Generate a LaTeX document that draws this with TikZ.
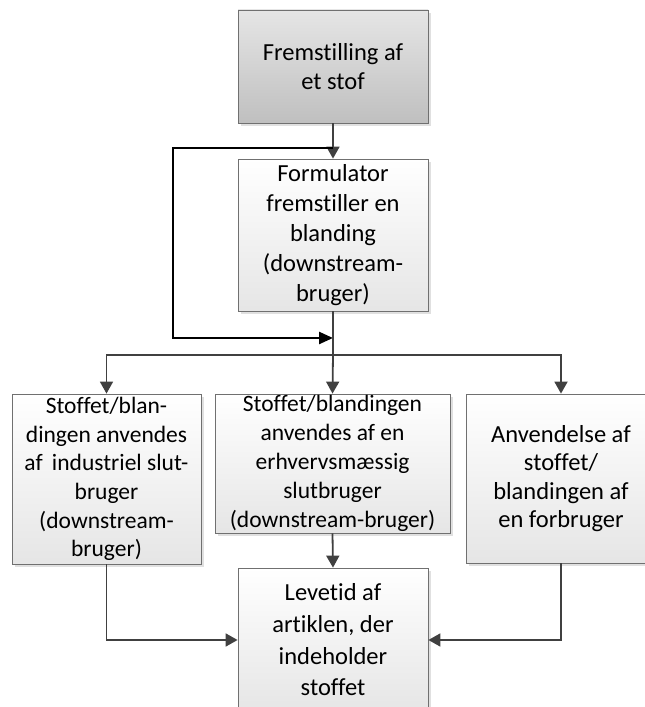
\documentclass[tikz,border=0pt]{standalone}
\usepackage{fontspec}
\setmainfont{Carlito}[Ligatures=NoCommon]
\usetikzlibrary{arrows.meta,shadows}

\definecolor{linegray}{HTML}{404040}
\definecolor{framegray}{HTML}{707070}

\tikzset{
  box/.style={draw=framegray, line width=0.8pt, align=center, inner sep=0pt,
    minimum width=190pt, top color=white, bottom color=black!10,
    drop shadow={shadow xshift=3pt, shadow yshift=-3pt, fill=black!12, opacity=1}},
  darkbox/.style={box, top color=black!10, bottom color=black!25},
  flow/.style={draw=linegray, line width=1.8pt, -{Triangle[width=13pt,length=12pt]}},
  loop/.style={draw=black, line width=2.4pt, -{Triangle[width=12pt,length=14pt]}}
}

\begin{document}
\begin{tikzpicture}[x=1pt,y=1pt]
  \useasboundingbox (0,0) rectangle (645,707);

  % the boxes
  \node[darkbox, minimum height=113pt, font=\fontsize{24.5}{29.5}\selectfont] (stof) at (333,640.5)
    {Fremstilling af\\et stof};
  \node[box, minimum height=152pt, font=\fontsize{24.5}{30}\selectfont] (formulator) at (333,472)
    {Formulator\\fremstiller en\\blanding\\(downstream-\\bruger)};
  \node[box, minimum width=189pt, minimum height=170pt, font=\fontsize{23.5}{28.7}\selectfont] (industri) at (106.5,228)
    {Stoffet/blan-\\dingen anvendes\\af\, industriel slut-\\bruger\\(downstream-\\bruger)};
  \node[box, minimum width=235pt, minimum height=139pt, font=\fontsize{23.5}{29}\selectfont] (erhverv) at (332.5,243.5)
    {Stoffet/blandingen\\anvendes af en\\erhvervsmæssig\\slutbruger\\(downstream-bruger)};
  \node[box, minimum height=169pt, font=\fontsize{24.5}{28.5}\selectfont] (forbruger) at (561,228.5)
    {Anvendelse af\\stoffet/\\blandingen af\\en forbruger};
  \node[box, minimum height=144pt, font=\fontsize{24.5}{31.7}\selectfont] (artikel) at (333,67)
    {Levetid af\\artiklen, der\\indeholder\\stoffet};

  % junction points
  \coordinate (loopin) at (333,559);
  \coordinate (loopout) at (333,369);
  \coordinate (split) at (333,352);

  % connectors
  \draw[flow] (stof.south) -- (formulator.north);
  \draw[loop] (loopin) -- ++(-160,0) |- (loopout);
  \draw[draw=linegray, line width=1.8pt] (formulator.south) -- (split);
  \draw[flow] (split) -- (erhverv.north);
  \draw[flow] (split) -| (industri.north);
  \draw[flow] (split) -| (forbruger.north);
  \draw[flow] (erhverv.south) -- (artikel.north);
  \draw[flow] (industri.south) |- (artikel.west);
  \draw[flow] (forbruger.south) |- (artikel.east);
\end{tikzpicture}
\end{document}
